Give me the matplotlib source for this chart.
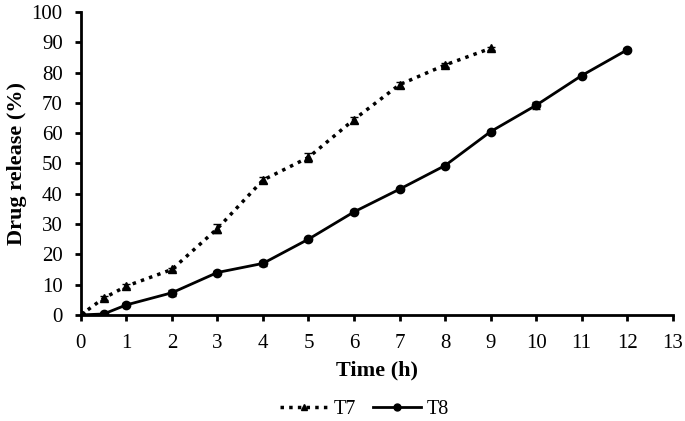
import matplotlib
matplotlib.use("Agg")
import matplotlib.pyplot as plt
from matplotlib.lines import Line2D

t7_time = [0, 0.5, 1, 2, 3, 4, 5, 6, 7, 8, 9]
t7_release = [0, 5.5, 9.5, 15, 28.5, 44.5, 52, 64.5, 76, 82.5, 88]
t7_err = [0, 0.6, 0.6, 0.6, 1.5, 1.0, 1.5, 1.0, 1.0, 0.6, 0.6]

t8_time = [0, 0.5, 1, 2, 3, 4, 5, 6, 7, 8, 9, 10, 11, 12]
t8_release = [0, 0.3, 3.3, 7.3, 14, 17, 25, 34, 41.5, 49.3, 60.5, 69.2, 79, 87.5]
t8_err = [0, 0.3, 0.5, 1.0, 0.5, 0.8, 0.5, 0.5, 0.5, 0.5, 0.6, 1.2, 0.5, 0.5]

plt.rcParams['font.family'] = ['Liberation Serif', 'DejaVu Serif']

fig = plt.figure(figsize=(6.85, 4.21), dpi=100)
ax = fig.add_axes([0.118, 0.252, 0.864, 0.7195])

t7_style = dict(color='black', linestyle=(0, (1, 1.5)), linewidth=2.5, marker='^')
t8_style = dict(color='black', linestyle='-', linewidth=2, marker='o')

ax.errorbar(t7_time, t7_release, yerr=t7_err, capsize=3, elinewidth=1, markersize=6, **t7_style)
ax.errorbar(t8_time, t8_release, yerr=t8_err, capsize=3, elinewidth=1, markersize=6, **t8_style)

ax.set_xlim(0, 13)
ax.set_ylim(0, 100)
ax.set_xticks(range(0, 14))
ax.set_yticks(range(0, 101, 10))
ax.spines['top'].set_visible(False)
ax.spines['right'].set_visible(False)
ax.spines['left'].set_linewidth(2)
ax.spines['bottom'].set_linewidth(2)
ax.tick_params(direction='out', length=4, width=2, labelsize=15)
ax.tick_params(axis='x', pad=10)
ax.tick_params(axis='y', pad=9)

ax.set_xlabel('Time (h)', fontsize=16, fontweight='bold', labelpad=5)
ax.set_ylabel('Drug release (%)', fontsize=16, fontweight='bold', labelpad=3)

handles = [Line2D([], [], markersize=5, **t7_style),
           Line2D([], [], markersize=5, **t8_style)]
fig.legend(handles, ['T7', 'T8'], loc='center', ncol=2, frameon=False, fontsize=14.5,
           bbox_to_anchor=(0.532, 0.028), handlelength=2.4, columnspacing=0.8, handletextpad=0.3)

fig.savefig('out.png', dpi=100)
